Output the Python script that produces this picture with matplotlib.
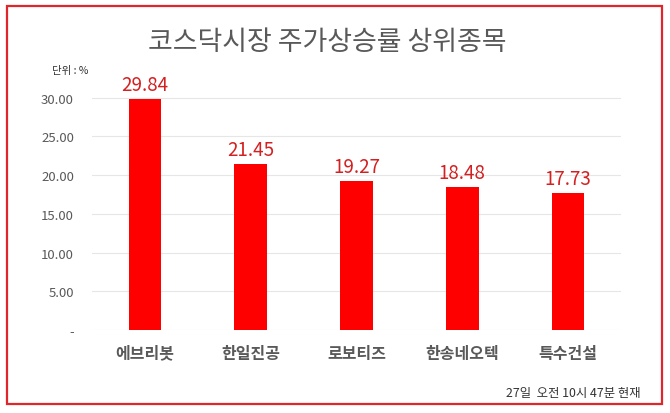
import matplotlib
matplotlib.use("Agg")
import matplotlib.pyplot as plt
from matplotlib.patches import Rectangle

plt.rcParams['font.family'] = ['Noto Sans CJK KR', 'DejaVu Sans']

categories = ['에브리봇', '한일진공', '로보티즈', '한송네오텍', '특수건설']
values = [29.84, 21.45, 19.27, 18.48, 17.73]
yticks = [0, 5, 10, 15, 20, 25, 30]
ytick_labels = ['-', '5.00', '10.00', '15.00', '20.00', '25.00', '30.00']
title = '코스닥시장 주가상승률 상위종목'
unit = '단위 : %'
note = '27일  오전 10시 47분 현재'

W, H = 670, 414
fig = plt.figure(figsize=(W/100, H/100), dpi=100)
fig.patch.set_facecolor('white')

# border
fig.patches.append(Rectangle((7/W, 1 - 405/H), 655/W, 398/H, transform=fig.transFigure,
                             fill=False, edgecolor='#E0262B', linewidth=1.6))

ax = fig.add_axes([92/W, 1 - 331/H, 529/W, 233/H])
x = range(len(categories))
ax.bar(x, values, width=0.31, color='#FF0000', zorder=3)
ax.set_xlim(-0.5, len(categories) - 0.5)
ax.set_ylim(0, 30.1)
ax.set_yticks(yticks)
ax.set_yticklabels(ytick_labels)
ax.set_xticks(list(x))
ax.set_xticklabels(categories, fontsize=11.5, fontweight='bold', color='#595959')
ax.tick_params(axis='y', length=0, pad=13, labelsize=9.5, labelcolor='#595959')
ax.tick_params(axis='x', length=0, pad=10.5)
for s in ax.spines.values():
    s.set_visible(False)
ax.grid(axis='y', color='#E6E6E6', linewidth=0.8, zorder=0)
ax.set_axisbelow(True)

for xi, v in zip(x, values):
    ax.annotate(f'{v:.2f}', (xi, v), xytext=(0, 3), textcoords='offset points',
                ha='center', va='bottom', fontsize=13.5, color='#D42020', clip_on=False)

fig.text(327/W, 1 - 43/H, title, ha='center', va='center', fontsize=19.4, color='#595959')
fig.text(70/W, 1 - 71/H, unit, ha='center', va='center', fontsize=7.5, color='#333333')
fig.text(641/W, 1 - 394/H, note, ha='right', va='center', fontsize=8.9, color='#333333')

fig.savefig('out.png', dpi=100)
